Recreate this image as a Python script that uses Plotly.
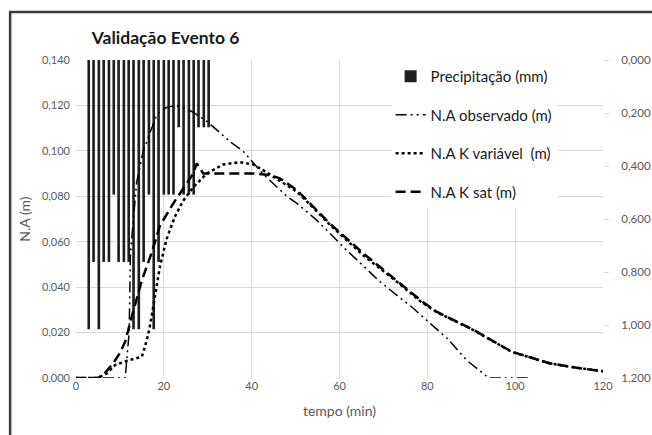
import plotly.graph_objects as go

# precipitação (mm) - barras penduradas no eixo da direita (invertido)
chuva_t = [2.9, 4.0, 5.2, 6.3, 7.5, 8.6, 9.7, 10.9, 12.0, 13.1, 14.3, 15.4, 16.6,
           17.7, 18.8, 20.0, 21.1, 22.2, 23.4, 24.5, 25.7, 26.8, 27.9, 29.1, 30.2]
chuva_mm = [1.016, 0.762, 1.016, 0.762, 0.762, 0.508, 0.762, 0.762, 0.762, 1.016,
            1.016, 0.762, 0.508, 1.016, 0.762, 0.508, 0.508, 0.508, 0.254, 0.508,
            0.508, 0.508, 0.254, 0.254, 0.254]

# N.A observado (m)
obs_t = [0, 11.2, 12.1, 12.4, 13.8, 15.3, 16.1, 18.4, 20.5, 22.5, 24.5, 26.7, 29.8,
         35.1, 38.0, 42.5, 48.0, 50.3, 54.8, 57.1, 61.6, 69.2, 76.8, 80.6, 84.5,
         88.9, 94.0, 103.0]
obs_na = [0, 0, 0.020, 0.055, 0.086, 0.100, 0.104, 0.116, 0.119, 0.120, 0.119,
          0.117, 0.113, 0.104, 0.100, 0.090, 0.080, 0.0769, 0.0695, 0.065, 0.0563,
          0.0424, 0.0307, 0.0241, 0.0175, 0.0079, 0, 0]

# N.A K variável (m)
kvar_t = [0, 5.0, 7.0, 8.9, 11.5, 13.0, 15.0, 15.7, 16.5, 17.3, 18.0, 19.1, 20.6,
          22.5, 24.4, 26.7, 29.8, 33.5, 37.3, 40.3, 42.6, 46.4, 50.3, 54.0, 57.8,
          65.4, 73.0, 78.6, 82.1, 90.6, 99.2, 107.8, 114.0, 120.0]
kvar_na = [0, 0, 0.002, 0.0057, 0.0075, 0.0082, 0.0094, 0.0138, 0.0196, 0.028,
           0.037, 0.049, 0.061, 0.071, 0.078, 0.084, 0.090, 0.094, 0.095, 0.094,
           0.0915, 0.087, 0.082, 0.075, 0.0675, 0.054, 0.0425, 0.0335, 0.029,
           0.021, 0.0115, 0.0065, 0.0045, 0.003]

# N.A K sat (m)
ksat_t = [0, 5.0, 6.5, 8.3, 10.0, 11.2, 12.7, 15.0, 17.2, 19.1, 22.2, 25.2, 26.7,
          27.5, 29.0, 35.0, 41.0, 44.2, 46.4, 50.3, 54.0, 57.8, 65.4, 73.0, 78.6,
          82.1, 90.6, 99.2, 107.8, 114.0, 120.0]
ksat_na = [0, 0, 0.002, 0.006, 0.011, 0.016, 0.027, 0.043, 0.055, 0.067, 0.077,
           0.086, 0.090, 0.0945, 0.090, 0.090, 0.090, 0.0893, 0.0879, 0.0827,
           0.0754, 0.068, 0.0549, 0.0431, 0.034, 0.0292, 0.0211, 0.0116, 0.0065,
           0.0045, 0.003]

esq_ticks = [0, 0.02, 0.04, 0.06, 0.08, 0.10, 0.12, 0.14]
dir_ticks = [0, 0.2, 0.4, 0.6, 0.8, 1.0, 1.2]
x_ticks = [0, 20, 40, 60, 80, 100, 120]

cinza = "#595959"
grade = "#d9d9d9"

fig = go.Figure()

fig.add_trace(go.Bar(x=chuva_t, y=chuva_mm, name="Precipitação (mm)", width=0.6,
                     marker=dict(color="#1e1e1e", line=dict(width=0)),
                     yaxis="y", legendgroup="a"))
fig.add_trace(go.Scatter(x=obs_t, y=obs_na, name="N.A observado (m)", mode="lines",
                         line=dict(color="black", width=1.5, dash="11px,4px,2px,4px,2px,4px"),
                         yaxis="y2", legendgroup="b"))
fig.add_trace(go.Scatter(x=kvar_t, y=kvar_na, name="N.A K variável  (m)", mode="lines",
                         line=dict(color="black", width=2.5, dash="dot"),
                         yaxis="y2", legendgroup="c"))
fig.add_trace(go.Scatter(x=ksat_t, y=ksat_na, name="N.A K sat (m)", mode="lines",
                         line=dict(color="black", width=2.5, dash="10px,5px"),
                         yaxis="y2", legendgroup="d"))

fig.update_layout(
    width=652, height=435, autosize=False,
    margin=dict(l=76, r=49, t=60, b=57),
    paper_bgcolor="white", plot_bgcolor="white",
    separators=",.",
    font=dict(family="Lato, Open Sans, sans-serif", size=11, color=cinza),
    title=dict(text="<b>Validação Evento 6</b>", x=0.03, xref="paper", xanchor="left",
               y=1 - 38 / 435, yref="container", yanchor="middle",
               font=dict(size=17.5, color="#1a1a1a")),
    showlegend=True,
    legend=dict(x=0.597, y=1.0, xanchor="left", yanchor="top",
                traceorder="grouped", tracegroupgap=16,
                bgcolor="rgba(255,255,255,1)",
                font=dict(size=15, color="#1a1a1a")),
    xaxis=dict(range=[0, 120], tickvals=x_ticks, showgrid=True, gridcolor=grade,
               zeroline=False, showline=False, ticks="", automargin=False,
               title=dict(text="tempo (min)", standoff=15, font=dict(size=14, color=cinza))),
    yaxis=dict(range=[1.2, 0], tickvals=dir_ticks, tickformat=".3f", side="right",
               showgrid=False, zeroline=False, showline=False, automargin=False,
               ticks="outside", ticklen=5, tickcolor=grade, ticklabelstandoff=10,
               tickfont=dict(size=11.5)),
    yaxis2=dict(range=[0, 0.14], tickvals=esq_ticks, tickformat=".3f", side="left",
                overlaying="y", showgrid=True, gridcolor=grade, zeroline=False,
                showline=False, ticks="", ticklabelstandoff=5, automargin=False,
                title=dict(text="N.A (m)", standoff=8, font=dict(size=14, color=cinza))),
    shapes=[dict(type="rect", xref="paper", yref="paper",
                 x0=-0.125, x1=1.3, y0=-0.5, y1=1.151,
                 line=dict(color="#3a3a3a", width=2.5), layer="above")],
)

# tira a margem padrão do body para a figura ocupar a janela toda
fig.write_html("out.html", config={"displayModeBar": False},
               post_script="document.body.style.margin='0';document.body.style.overflow='hidden';")
